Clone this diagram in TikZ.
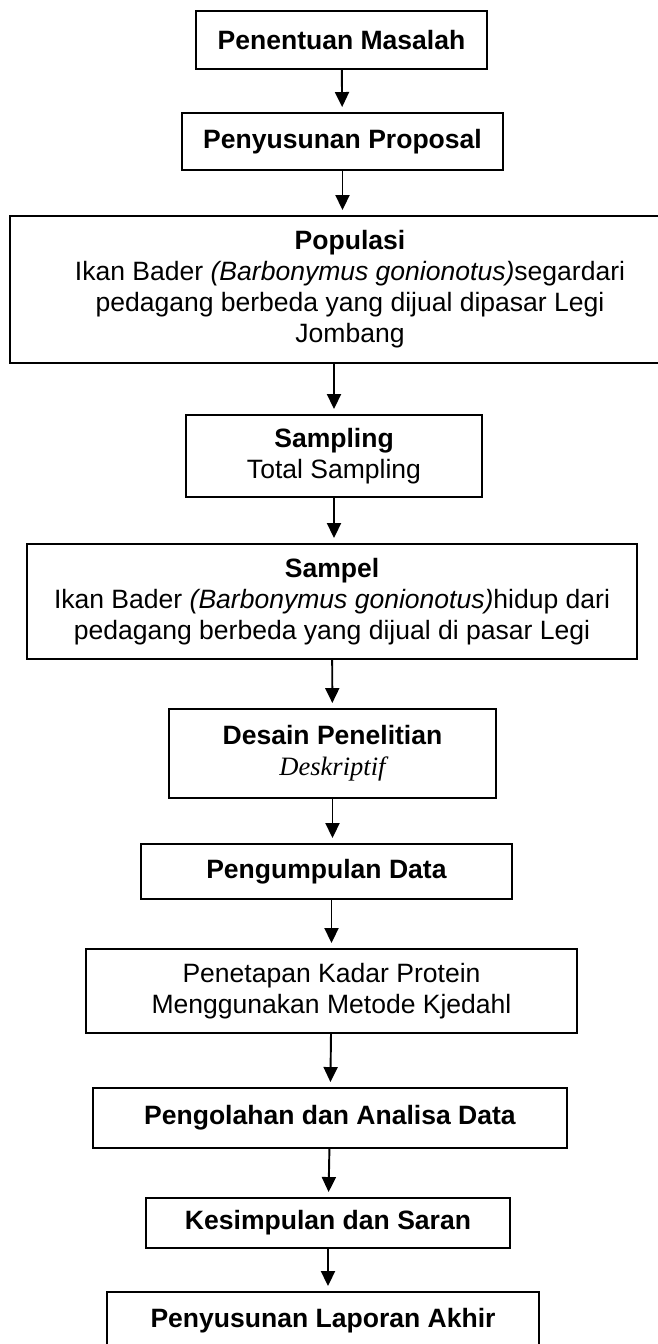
\documentclass[tikz,border=0pt]{standalone}
\usepackage{fontspec}
\setmainfont{Liberation Sans}
\newfontfamily\timesit{Liberation Serif}
\usetikzlibrary{arrows.meta}

\begin{document}
\begin{tikzpicture}[
    x=0.02cm, y=-0.02cm,
    box/.style={draw, rectangle, line width=1.1pt, align=center, inner sep=2pt, font=\fontsize{15.1}{17.6}\selectfont},
    arrow/.style={->, >={Triangle[length=0.3cm, width=0.28cm]}, line width=1.1pt, shorten >=0.1cm},
]
\useasboundingbox (0,0) rectangle (657,1344);
\fill[white] (0,0) rectangle (657,1344);

% Penentuan masalah
\node[box, minimum width=5.82cm, minimum height=1.16cm] (masalah) at (341.5, 40) {\textbf{Penentuan Masalah}};

% Proposal
\node[box, minimum width=6.42cm, minimum height=1.14cm] (proposal) at (342.5, 141.5) {\textbf{Penyusunan Proposal}};

% Populasi
\node[box, minimum width=13.6cm, minimum height=2.94cm] (populasi) at (350, 289.5) {\textbf{Populasi}\\Ikan Bader \textit{(Barbonymus gonionotus)}segardari\\pedagang berbeda yang dijual dipasar Legi\\Jombang};

% Sampling
\node[box, minimum width=5.92cm, minimum height=1.64cm] (sampling) at (334, 456) {\textbf{Sampling}\\Total Sampling};

% Sampel
\node[box, minimum width=12.2cm, minimum height=2.3cm] (sampel) at (332, 601.5) {\textbf{Sampel}\\Ikan Bader \textit{(Barbonymus gonionotus)}hidup dari\\pedagang berbeda yang dijual di pasar Legi};

% Desain penelitian
\node[box, minimum width=6.54cm, minimum height=1.78cm] (desain) at (332.5, 753.5) {\textbf{Desain Penelitian}\\{\timesit\itshape Deskriptif}};

% Pengumpulan data
\node[box, minimum width=7.42cm, minimum height=1.1cm] (kumpul) at (326.5, 871.5) {\textbf{Pengumpulan Data}};

% Kadar protein
\node[box, minimum width=9.82cm, minimum height=1.68cm] (kadar) at (331.5, 991) {Penetapan Kadar Protein\\Menggunakan Metode Kjedahl};

% Pengolahan
\node[box, minimum width=9.48cm, minimum height=1.2cm] (olah) at (330, 1118) {\textbf{Pengolahan dan Analisa Data}};

% Kesimpulan
\node[box, minimum width=7.28cm, minimum height=1.0cm] (simpulan) at (328, 1223) {\textbf{Kesimpulan dan Saran}};

% Laporan akhir
\node[box, minimum width=8.64cm, minimum height=1.16cm] (laporan) at (323, 1321) {\textbf{Penyusunan Laporan Akhir}};

% Arrows
\draw[arrow] (masalah) -- (proposal);
\draw[arrow] (proposal.south) -- (proposal.south |- populasi.north);
\draw[arrow] (sampling.north |- populasi.south) -- (sampling.north);
\draw[arrow] (sampling.south) -- (sampling.south |- sampel.north);
\draw[arrow] (sampel) -- (desain);
\draw[arrow] (desain.south) -- (desain.south |- kumpul.north);
\draw[arrow] (kadar.north |- kumpul.south) -- (kadar.north);
\draw[arrow] (kadar) -- (olah);
\draw[arrow] (olah) -- (simpulan);
\draw[arrow] (simpulan.south) -- (simpulan.south |- laporan.north);

\end{tikzpicture}
\end{document}
